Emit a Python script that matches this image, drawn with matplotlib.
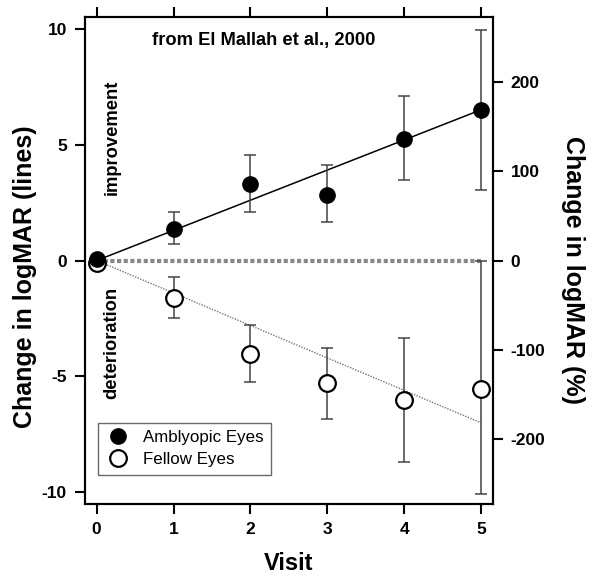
import matplotlib
matplotlib.use("Agg")
import matplotlib.pyplot as plt
from matplotlib.lines import Line2D

plt.rcParams['font.family'] = ['Liberation Sans', 'DejaVu Sans']
plt.rcParams['axes.unicode_minus'] = False

# visits and mean change in logMAR (lines), with error bar ends
visits = [0, 1, 2, 3, 4, 5]
ambly_mean = [0.05, 1.38, 3.29, 2.84, 5.26, 6.48]
ambly_top = [0.05, 2.08, 4.54, 4.11, 7.09, 9.96]
ambly_bottom = [0.05, 0.70, 2.08, 1.66, 3.46, 3.02]

fellow_mean = [-0.12, -1.60, -4.04, -5.30, -6.02, -5.52]
fellow_top = [-0.12, -0.70, -2.76, -3.77, -3.32, 0.0]
fellow_bottom = [-0.12, -2.50, -5.25, -6.85, -8.71, -10.08]

# linear fits, drawn from visit 0 to visit 5
fit_x = [0, 5]
ambly_fit = [0, 6.5]
fellow_fit = [0, -7.0]

pct_per_line = 26.0
yticks_left = [-10, -5, 0, 5, 10]
yticks_right = [-200, -100, 0, 100, 200]

fig = plt.figure(figsize=(5.93, 5.77), dpi=100)
ax = fig.add_axes([0.1433, 0.1265, 0.6876, 0.844])

ax.plot(fit_x, [0, 0], color="#888888", lw=3, ls=(0, (1, 0.6)), zorder=1)
ax.plot(fit_x, ambly_fit, color="black", lw=1.1, zorder=2)
ax.plot(fit_x, fellow_fit, color="#777777", lw=1.0, ls=(0, (1, 1)), zorder=2)


def err(mean, top, bottom):
    return [[m - b for m, b in zip(mean, bottom)], [t - m for m, t in zip(mean, top)]]


ax.errorbar(visits[1:], fellow_mean[1:], yerr=[e[1:] for e in err(fellow_mean, fellow_top, fellow_bottom)],
            fmt="none", ecolor="#444444", elinewidth=1.1, capsize=4, capthick=1.1, zorder=3)
ax.errorbar(visits[1:], ambly_mean[1:], yerr=[e[1:] for e in err(ambly_mean, ambly_top, ambly_bottom)],
            fmt="none", ecolor="#444444", elinewidth=1.1, capsize=4, capthick=1.1, zorder=3)

ax.plot(visits, fellow_mean, "o", ms=12, mfc="white", mec="black", mew=1.6, ls="none", zorder=4)
ax.plot(visits, ambly_mean, "o", ms=11, mfc="black", mec="black", ls="none", zorder=5)

ax.set_xlim(-0.152, 5.152)
ax.set_ylim(-10.5, 10.5)
ax.set_xticks(visits)
ax.set_yticks(yticks_left)

for s in ax.spines.values():
    s.set_linewidth(1.5)
ax.tick_params(axis="both", direction="out", length=7, width=1.5, labelsize=12.5, pad=6)
ax.tick_params(axis="x", top=True, labeltop=False)
for lab in ax.get_xticklabels() + ax.get_yticklabels():
    lab.set_fontweight("bold")

ax2 = ax.twinx()
ax2.set_ylim(-10.5 * pct_per_line, 10.5 * pct_per_line)
ax2.set_yticks(yticks_right)
ax2.tick_params(axis="y", direction="out", length=7, width=1.5, labelsize=12.5, pad=6)
for lab in ax2.get_yticklabels():
    lab.set_fontweight("bold")
for s in ax2.spines.values():
    s.set_linewidth(1.5)

ax.set_xlabel("Visit", fontsize=17, fontweight="bold", labelpad=11)
fig.text(25 / 593, 1 - 277 / 577, "Change in logMAR (lines)", fontsize=18, fontweight="bold",
         rotation=90, ha="center", va="center")
fig.text(573 / 593, 1 - 270 / 577, "Change in logMAR (%)", fontsize=18, fontweight="bold",
         rotation=270, ha="center", va="center")

ax.text(2.17, 9.5, "from El Mallah et al., 2000", fontsize=13.2, fontweight="bold", ha="center", va="center")
ax.text(0.2, 5.31, "improvement", fontsize=13.2, fontweight="bold", rotation=90, ha="center", va="center")
ax.text(0.2, -3.56, "deterioration", fontsize=13.2, fontweight="bold", rotation=90, ha="center", va="center")

handles = [
    Line2D([], [], marker="o", ls="none", ms=11, mfc="black", mec="black"),
    Line2D([], [], marker="o", ls="none", ms=12, mfc="white", mec="black", mew=1.6),
]
leg = ax.legend(handles, ["Amblyopic Eyes", "Fellow Eyes"], loc="lower left",
                bbox_to_anchor=(0.032, 0.06), borderaxespad=0, fontsize=12.2, frameon=True,
                fancybox=False, edgecolor="#444444", handletextpad=0.8, borderpad=0.45,
                labelspacing=0.4, handlelength=1.4)
leg.get_frame().set_linewidth(1.0)

fig.savefig("out.png", dpi=100)
